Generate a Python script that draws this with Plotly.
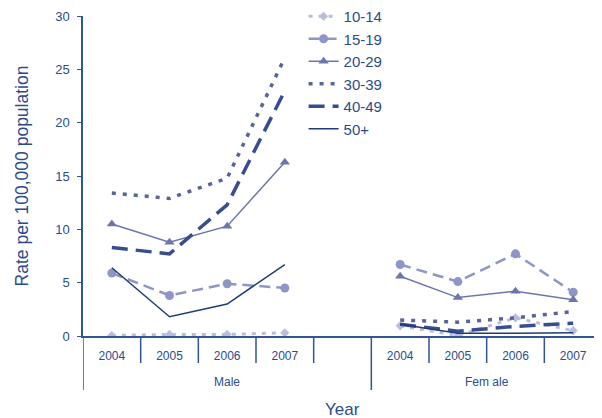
import plotly.graph_objects as go

years = ["2004", "2005", "2006", "2007"]
groups = ["Male", "Fem ale"]
series = ["10-14", "15-19", "20-29", "30-39", "40-49", "50+"]

male = {
    "10-14": [0.05, 0.15, 0.15, 0.3],
    "15-19": [5.9, 3.8, 4.9, 4.5],
    "20-29": [10.5, 8.8, 10.3, 16.3],
    "30-39": [13.4, 12.9, 14.8, 26.1],
    "40-49": [8.3, 7.7, 12.3, 23.0],
    "50+":   [6.4, 1.8, 3.0, 6.7],
}
female = {
    "10-14": [0.95, 0.05, 1.7, 0.5],
    "15-19": [6.7, 5.1, 7.7, 4.1],
    "20-29": [5.6, 3.6, 4.2, 3.4],
    "30-39": [1.5, 1.3, 1.7, 2.3],
    "40-49": [1.1, 0.45, 0.9, 1.2],
    "50+":   [1.1, 0.25, 0.25, 0.3],
}

styles = {
    "10-14": dict(color="#B9BDDA", dash="4px,6px", width=3, symbol="diamond", size=7),
    "15-19": dict(color="#8D96C6", dash="11px,6px", width=2.5, symbol="circle", size=9),
    "20-29": dict(color="#6C76AD", dash="solid", width=1.5, symbol="triangle-up", size=9),
    "30-39": dict(color="#58639A", dash="4px,7px", width=3.5, symbol=None, size=0),
    "40-49": dict(color="#374D8F", dash="16px,8px", width=3.5, symbol=None, size=0),
    "50+":   dict(color="#1E3B7A", dash="solid", width=1.5, symbol=None, size=0),
}

# category slots: Male years, one blank slot, Female years
cat_labels = years + [""] + years
slot_group = [groups[0]] * 5 + [groups[1]] * 4
xpos = list(range(len(cat_labels)))

W, H = 602, 418
OFF = 8  # page body margin
fig_w, fig_h = W - OFF, H - OFF
ML, MR, MT = 75, 0, 8
plot_h = 320
MB = fig_h - MT - plot_h

fig = go.Figure()
for s in series:
    st = styles[s]
    y = male[s] + [None] + female[s]
    mode = "lines+markers" if st["symbol"] else "lines"
    marker = dict(symbol=st["symbol"], size=st["size"], color=st["color"]) if st["symbol"] else None
    fig.add_trace(go.Scatter(
        x=xpos, y=y, name=s, mode=mode,
        line=dict(color=st["color"], dash=st["dash"], width=st["width"]),
        marker=marker, connectgaps=False,
    ))

axc = "#2F5597"
txt = "#2B4C8C"

def px(p):
    return -p / plot_h

# dividers at category boundaries
shapes = []
for i in range(len(cat_labels) + 1):
    b = i - 0.5
    is_group_edge = (i == 0) or (0 < i < len(cat_labels) and slot_group[i] != slot_group[i - 1])
    depth = 54 if is_group_edge else 27
    shapes.append(dict(type="line", xref="x", yref="paper", x0=b, x1=b, y0=0, y1=px(depth),
                       line=dict(color=axc, width=1.5)))

annotations = []
for g in groups:
    idx = [i for i, sg in enumerate(slot_group) if sg == g]
    center = (idx[0] - 0.5 + idx[-1] + 0.5) / 2
    annotations.append(dict(text=g, x=center, y=px(46), xref="x", yref="paper",
                            showarrow=False, font=dict(size=12, color=txt),
                            xanchor="center", yanchor="middle"))
annotations.append(dict(text="Year", x=(-0.5 + len(cat_labels) - 0.5) / 2, y=px(73),
                        xref="x", yref="paper", showarrow=False,
                        font=dict(size=17, color=txt), xanchor="center", yanchor="middle"))

fig.update_layout(
    width=fig_w, height=fig_h,
    margin=dict(l=ML, r=MR, t=MT, b=MB, autoexpand=False),
    plot_bgcolor="white", paper_bgcolor="white",
    font=dict(family="Liberation Sans, Arial, sans-serif", color=txt),
    showlegend=True,
    legend=dict(x=0.425, y=1.05, xanchor="left", yanchor="top",
                font=dict(size=15, color=txt), tracegroupgap=0,
                bgcolor="rgba(0,0,0,0)", itemwidth=30),
    shapes=shapes,
    annotations=annotations,
    xaxis=dict(
        range=[-0.5, len(cat_labels) - 0.5], tickvals=xpos, ticktext=cat_labels,
        showline=True, linecolor=axc, linewidth=1.5, ticks="", showgrid=False,
        zeroline=False, tickfont=dict(size=12, color=txt), ticklabelstandoff=8,
        automargin=False,
    ),
    yaxis=dict(
        range=[0, 30], dtick=5, showline=True, linecolor=axc, linewidth=1.5,
        ticks="outside", ticklen=4, tickcolor=axc, showgrid=False, zeroline=False,
        tickfont=dict(size=13, color=txt), ticklabelstandoff=5, automargin=False,
        title=dict(text="Rate per 100,000 population", font=dict(size=17.5, color=txt), standoff=22),
    ),
)

fig.write_html("out.html")
